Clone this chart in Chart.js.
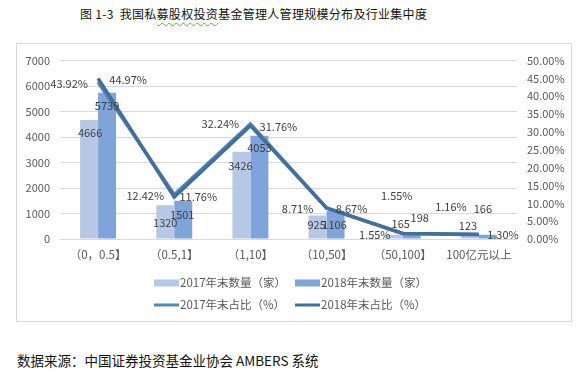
<!DOCTYPE html>
<html>
<head>
<meta charset="utf-8">
<script src="https://cdn.jsdelivr.net/npm/chart.js@4/dist/chart.umd.min.js"></script>
<style>
    body { margin: 0; background: #fff; width: 588px; height: 377px; position: relative; overflow: hidden; font-family: "Noto Sans CJK SC", sans-serif; }
    #title { position: absolute; left: 80px; top: 5px; font-size: 12px; letter-spacing: 0.3px; color: #111; white-space: nowrap; }
    #title .sq { text-decoration: underline wavy #6aa84f; text-decoration-thickness: 1px; text-underline-offset: 3px; }
    #frame { position: absolute; left: 16px; top: 43px; width: 556px; height: 279px; box-sizing: border-box; border: 1px solid #d9d9d9; }
    #source { position: absolute; left: 17px; top: 350px; font-size: 13.5px; color: #111; white-space: nowrap; }
</style>
</head>
<body>
<div id="title">图 1-3&nbsp;&nbsp;我国私<span class="sq">募股权投资</span>基金管理人管理规模分布及行业集中度</div>
<div id="frame"><canvas id="chart" width="554" height="277"></canvas></div>
<div id="source">数据来源：中国证券投资基金业协会 AMBERS 系统</div>
<script>
// Data
const categories = ['（0，0.5】', '（0.5,1】', '（1,10】', '（10,50】', '（50,100】', '100亿元以上'];
const count2017 = [4666, 1320, 3426, 925, 165, 123];
const count2018 = [5739, 1501, 4053, 1106, 198, 166];
const share2017 = [43.92, 12.42, 32.24, 8.71, 1.55, 1.16];
const share2018 = [44.97, 11.76, 31.76, 8.67, 1.55, 1.30];
const leftTicks = [0, 7000, 1000];   // min, max, step
const rightTicks = [0, 50, 5];

// Label nudges (dx, dy) per dataset, relative to the bar top / line point
const labelOffsets = [
    [[1, 13], [0, 17], [-1, 14], [-1, 9], [7, -11], [-2, -10]],
    [[0, 13], [-1, 14], [0, 12], [-1, 14], [8, -16], [-5, -26]],
    [[-29, 2], [-29, 1], [-30, 0], [-29, 1], [-28, 1], [-28, -28]],
    [[30, 1], [24, 0], [28, 1], [25, 1], [-6, -38], [24, 0]]
];

const FONT = '"Noto Sans CJK SC", sans-serif';
const TEXT = '#595959';

/**
 * Draw the value labels next to bars and points
 */
const valueLabels = {
    id: 'valueLabels',
    afterDatasetsDraw(chart) {
        const ctx = chart.ctx;
        ctx.save();
        ctx.font = '11px ' + FONT;
        ctx.fillStyle = '#404040';
        ctx.textAlign = 'center';
        ctx.textBaseline = 'middle';
        chart.data.datasets.forEach((ds, i) => {
            const meta = chart.getDatasetMeta(i);
            meta.data.forEach((el, j) => {
                const off = labelOffsets[i][j];
                const text = ds.type === 'line' ? ds.data[j].toFixed(2) + '%' : String(ds.data[j]);
                ctx.fillText(text, el.x + off[0], el.y + off[1]);
            });
        });
        ctx.restore();
    }
};

/**
 * Two-column legend under the axis (bars on the first row, lines below)
 */
const gridLegend = {
    id: 'gridLegend',
    afterDraw(chart) {
        const ctx = chart.ctx;
        const colW = 141;
        const left = chart.width / 2 - colW + 1;
        const top = chart.chartArea.bottom + 44;
        ctx.save();
        ctx.font = '11.5px ' + FONT;
        ctx.textBaseline = 'middle';
        ctx.textAlign = 'left';
        chart.data.datasets.forEach((ds, i) => {
            const x = left + (i % 2) * colW;
            const y = top + Math.floor(i / 2) * 22;
            if (ds.type === 'line') {
                ctx.strokeStyle = ds.borderColor;
                ctx.lineWidth = 3;
                ctx.beginPath();
                ctx.moveTo(x, y);
                ctx.lineTo(x + 25, y);
                ctx.stroke();
            } else {
                ctx.fillStyle = ds.backgroundColor;
                ctx.fillRect(x, y - 3.5, 25, 7);
            }
            ctx.fillStyle = TEXT;
            ctx.fillText(ds.label, x + 26, y);
        });
        ctx.restore();
    }
};

const ctx = document.getElementById('chart');
new Chart(ctx, {
    data: {
        labels: categories,
        datasets: [
            {
                type: 'bar',
                label: '2017年末数量（家）',
                data: count2017,
                backgroundColor: '#b6c8e6',
                yAxisID: 'y',
                order: 2
            },
            {
                type: 'bar',
                label: '2018年末数量（家）',
                data: count2018,
                backgroundColor: '#7fa4d9',
                yAxisID: 'y',
                order: 3
            },
            {
                type: 'line',
                label: '2017年末占比（%）',
                data: share2017,
                borderColor: '#5a86b3',
                backgroundColor: '#5a86b3',
                borderWidth: 3.5,
                pointRadius: 0,
                tension: 0,
                yAxisID: 'y1',
                order: 1
            },
            {
                type: 'line',
                label: '2018年末占比（%）',
                data: share2018,
                borderColor: '#41709d',
                backgroundColor: '#41709d',
                borderWidth: 3.5,
                pointRadius: 0,
                tension: 0,
                yAxisID: 'y1',
                order: 0
            }
        ]
    },
    options: {
        responsive: false,
        animation: false,
        layout: { padding: { top: 13, left: 0, right: 0, bottom: 56 } },
        datasets: {
            bar: { categoryPercentage: 0.472, barPercentage: 1 }
        },
        scales: {
            x: {
                grid: { display: false, drawTicks: false },
                border: { display: false },
                ticks: { color: TEXT, font: { family: FONT, size: 11.5 }, padding: 9, maxRotation: 0, autoSkip: false },
                afterFit(axis) { axis.height = 26; }
            },
            y: {
                position: 'left',
                min: leftTicks[0],
                max: leftTicks[1],
                grid: { color: '#d9d9d9', drawTicks: false },
                border: { display: false },
                ticks: {
                    stepSize: leftTicks[2],
                    color: TEXT,
                    font: { family: FONT, size: 11 },
                    padding: 10,
                    callback: v => String(v)
                },
                afterFit(axis) { axis.width = 43; }
            },
            y1: {
                position: 'right',
                min: rightTicks[0],
                max: rightTicks[1],
                grid: { display: false, drawTicks: false },
                border: { display: false },
                ticks: {
                    stepSize: rightTicks[2],
                    color: TEXT,
                    font: { family: FONT, size: 11 },
                    padding: 10,
                    callback: v => v.toFixed(2) + '%'
                },
                afterFit(axis) { axis.width = 54; }
            }
        },
        plugins: {
            tooltip: { enabled: false },
            legend: { display: false }
        }
    },
    plugins: [valueLabels, gridLegend]
});
</script>
</body>
</html>
